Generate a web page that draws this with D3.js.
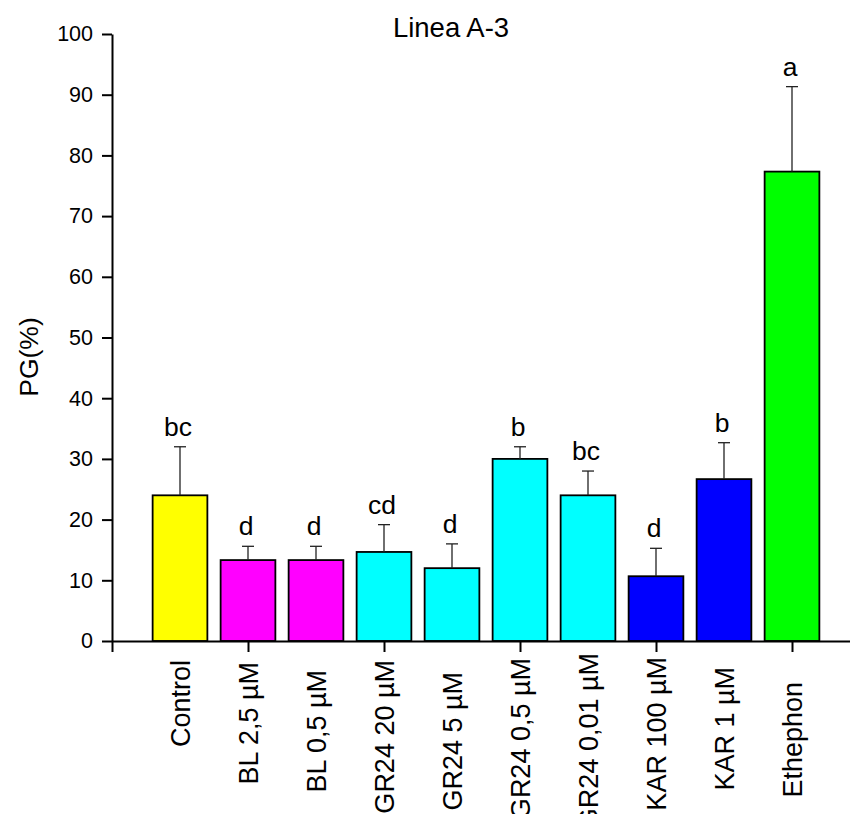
<!DOCTYPE html>
<html>
<head>
<meta charset="utf-8">
<script src="https://cdn.jsdelivr.net/npm/d3@7"></script>
<style>
  html, body { margin: 0; padding: 0; background: #fff; }
  svg { display: block; font-family: "Liberation Sans", Arial, sans-serif; }
</style>
</head>
<body>
<svg id="chart" width="850" height="814"></svg>
<script>
// Germination percentage per treatment (mean and upper standard deviation)
const categories = ["Control", "BL 2,5 µM", "BL 0,5 µM", "GR24 20 µM", "GR24 5 µM",
                    "GR24 0,5 µM", "GR24 0,01 µM", "KAR 100 µM", "KAR 1 µM", "Ethephon"];
const means  = [24, 13.33, 13.33, 14.67, 12, 30, 24, 10.67, 26.67, 77.33];
const errors = [8, 2.27, 2.27, 4.5, 4, 2, 4, 4.6, 6, 14];
const letters = ["bc", "d", "d", "cd", "d", "b", "bc", "d", "b", "a"];
const yTicks = [0, 10, 20, 30, 40, 50, 60, 70, 80, 90, 100];
const xTicks = [0, 2, 4, 6, 8, 10];

// Styling
const barColors = ["#ffff00", "#ff00ff", "#ff00ff", "#00ffff", "#00ffff",
                   "#00ffff", "#00ffff", "#0000ff", "#0000ff", "#00ff00"];
const labelGap = [19, 21, 29, 19, 31, 17, 12, 16, 26, 41]; // gap below axis for each category label

const svg = d3.select("#chart");
const x0 = 112, yBottom = 641, yTop = 34;

// Positions along the x axis: category i sits at i + 1, axis origin at 0
const x = d3.scaleLinear().domain([0, 11]).range([x0, x0 + 11 * 68]);
const y = d3.scaleLinear().domain([0, 100]).range([yBottom, yTop]);
const barW = x(0.805) - x(0);

const data = categories.map((c, i) => ({
  name: c, pos: i + 1, mean: means[i], err: errors[i], letter: letters[i], color: barColors[i], gap: labelGap[i]
}));

// Bars
svg.append("g").selectAll("rect").data(data).join("rect")
  .attr("x", d => x(d.pos) - barW / 2)
  .attr("y", d => y(d.mean))
  .attr("width", barW)
  .attr("height", d => y(0) - y(d.mean))
  .attr("fill", d => d.color)
  .attr("stroke", "#000")
  .attr("stroke-width", 1.8);

// Upper error bars
const eb = svg.append("g").attr("stroke", "#222").attr("stroke-width", 1.3);
eb.selectAll("line.v").data(data).join("line").attr("class", "v")
  .attr("x1", d => x(d.pos)).attr("x2", d => x(d.pos))
  .attr("y1", d => y(d.mean)).attr("y2", d => y(d.mean + d.err));
eb.selectAll("line.cap").data(data).join("line").attr("class", "cap")
  .attr("x1", d => x(d.pos) - 6).attr("x2", d => x(d.pos) + 6)
  .attr("y1", d => y(d.mean + d.err)).attr("y2", d => y(d.mean + d.err));

// Significance letters
svg.append("g").selectAll("text").data(data).join("text")
  .attr("x", d => x(d.pos) - 2)
  .attr("y", d => y(d.mean + d.err) - 11)
  .attr("text-anchor", "middle")
  .attr("font-size", 26.5)
  .attr("fill", "#000")
  .text(d => d.letter);

// Y axis
const yAxis = svg.append("g")
  .attr("transform", `translate(${x0},0)`)
  .call(d3.axisLeft(y).tickValues(yTicks).tickSize(10).tickSizeOuter(0).tickPadding(9));
yAxis.attr("font-family", null).attr("font-size", null);
yAxis.select(".domain").attr("stroke", "#000").attr("stroke-width", 2);
yAxis.selectAll(".tick line").attr("stroke", "#000").attr("stroke-width", 2);
yAxis.selectAll(".tick text").attr("font-size", 21.5).attr("fill", "#000");

// X axis (tick marks only, category names drawn separately)
const xAxis = svg.append("g")
  .attr("transform", `translate(0,${yBottom})`)
  .call(d3.axisBottom(x).tickValues(xTicks).tickFormat("").tickSize(11).tickSizeOuter(0));
xAxis.select(".domain").attr("stroke", "#000").attr("stroke-width", 2);
xAxis.selectAll(".tick line").attr("stroke", "#000").attr("stroke-width", 2);

// Category labels, rotated
svg.append("g").selectAll("text").data(data).join("text")
  .attr("transform", d => `translate(${x(d.pos)},${yBottom + d.gap}) rotate(-90)`)
  .attr("text-anchor", "end")
  .attr("dy", "0.36em")
  .attr("font-size", 27)
  .attr("fill", "#000")
  .text(d => d.name);

// Axis title
svg.append("text")
  .attr("transform", `translate(28,357) rotate(-90)`)
  .attr("text-anchor", "middle")
  .attr("dy", "0.36em")
  .attr("font-size", 26.5)
  .attr("fill", "#000")
  .text("PG(%)");

// Chart title
svg.append("text")
  .attr("x", 451)
  .attr("y", 37)
  .attr("text-anchor", "middle")
  .attr("font-size", 27.5)
  .attr("fill", "#000")
  .text("Linea A-3");
</script>
</body>
</html>
